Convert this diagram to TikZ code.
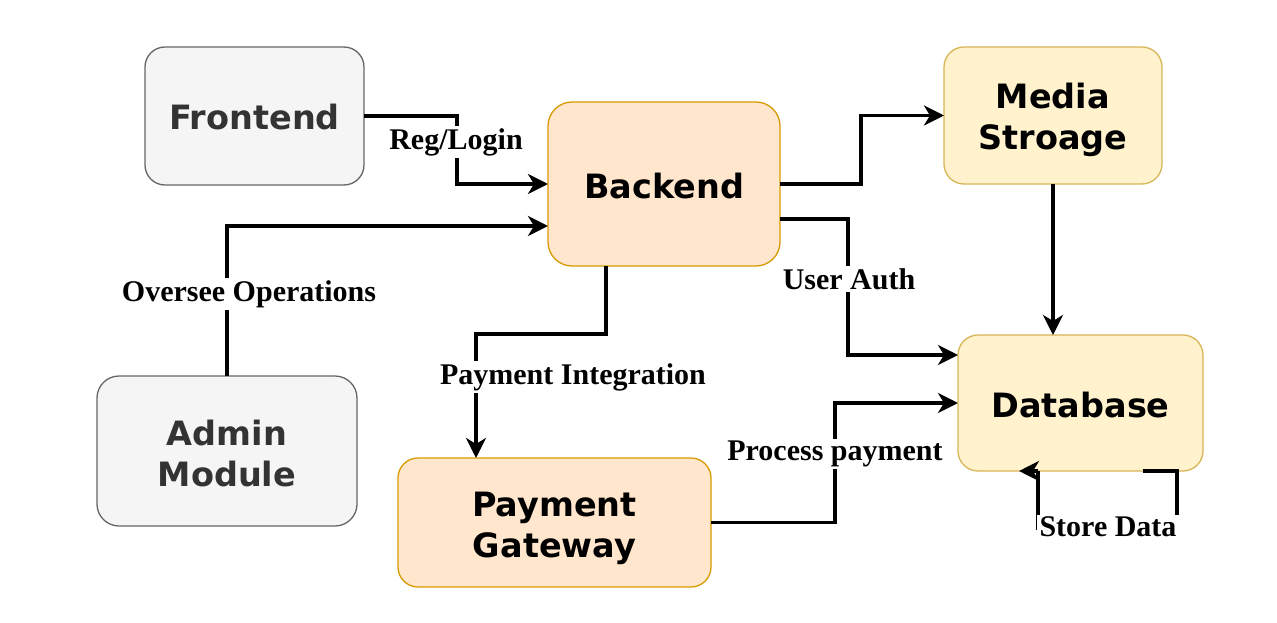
\documentclass[tikz,border=0pt]{standalone}
\usepackage{fontspec}
\setmainfont{Liberation Serif}
\newfontfamily\boxfont{DejaVu Sans}
\usetikzlibrary{arrows.meta,calc}
\definecolor{grayfill}{HTML}{F5F5F5}
\definecolor{graystroke}{HTML}{666666}
\definecolor{graytext}{HTML}{333333}
\definecolor{orfill}{HTML}{FFE6CC}
\definecolor{orstroke}{HTML}{D79B00}
\definecolor{yefill}{HTML}{FFF2CC}
\definecolor{yestroke}{HTML}{D6B656}
\tikzset{
  box/.style={rounded corners=20pt, line width=1.3pt, inner sep=0pt, outer sep=0pt},
  tx/.style={align=center, inner sep=0pt, font=\boxfont\bfseries\fontsize{33.5}{41}\selectfont},
  graybox/.style={box, fill=grayfill, draw=graystroke},
  orbox/.style={box, fill=orfill, draw=orstroke},
  yebox/.style={box, fill=yefill, draw=yestroke},
  arr/.style={line width=3.5pt, -{Stealth[length=20pt,width=20pt,inset=6pt]}},
  ln/.style={line width=3.5pt},
  lbl/.style={fill=white, inner sep=2pt, font=\bfseries\fontsize{30}{34}\selectfont}
}
\begin{document}
\begin{tikzpicture}[x=1pt,y=-1pt]
\useasboundingbox (0,0) rectangle (1277,623);
\node[graybox, minimum width=219pt, minimum height=138pt] (fe) at (254.5,116) {};
\node[orbox, minimum width=232pt, minimum height=164pt, rounded corners=24pt] (be) at (664,184) {};
\node[yebox, minimum width=218pt, minimum height=137pt] (me) at (1053,115.5) {};
\node[yebox, minimum width=245pt, minimum height=136pt] (db) at (1080.5,403) {};
\node[graybox, minimum width=260pt, minimum height=150pt, rounded corners=22pt] (ad) at (227,451) {};
\node[orbox, minimum width=313pt, minimum height=129pt] (pg) at (554.5,522.5) {};

\node[tx, text=graytext] (fe-t) at ($(fe.center)+(0,1.5)$) {Frontend};
\node[tx] (be-t) at ($(be.center)+(0,2)$) {Backend};
\node[tx] (me-t) at ($(me.center)+(0,4.5)$) {Media\\Stroage};
\node[tx] (db-t) at ($(db.center)+(0,2)$) {Database};
\node[tx, text=graytext] (ad-t) at ($(ad.center)+(0,2.5)$) {Admin\\Module};
\node[tx] (pg-t) at ($(pg.center)+(0,6)$) {Payment\\Gateway};

\draw[arr] (fe.east) -| ($(be.west)+(-91,0)$) -- (be.west);
\draw[arr] (ad.north) |- ($(be.west)+(0,42)$);
\draw[arr] ($(be.south)+(-58,0)$) -- ++(0,68) -| ($(pg.north)+(-78.5,0)$);
\draw[arr] (be.east) -- ++(81,0) |- (me.west);
\draw[arr] ($(be.east)+(0,35)$) -- ++(68,0) |- ($(db.west)+(0,-48)$);
\draw[arr] (me.south) -- (me.south |- db.north);
\draw[arr] (pg.east) -- ++(124,0) |- (db.west);
\coordinate (l1) at ($(db.south)+(62.5,0)$);
\coordinate (l2) at ($(db.south)+(-42.5,0)$);
\draw[ln] (l1) -- ++(34,0) -- ++(0,57) -| (l2);
\draw[arr] (l2) -- ++(-19,0);

\node[lbl] (t1) at (456,142) {Reg/Login};
\node[lbl] (t2) at (249,294) {Oversee Operations};
\node[lbl] (t3) at (573,377) {Payment Integration};
\node[lbl] (t4) at (849,279) {User Auth};
\node[lbl] (t5) at (835,454) {Process payment};
\node[lbl, inner xsep=3pt] (t6) at (1108,527) {Store Data};
\end{tikzpicture}
\end{document}
